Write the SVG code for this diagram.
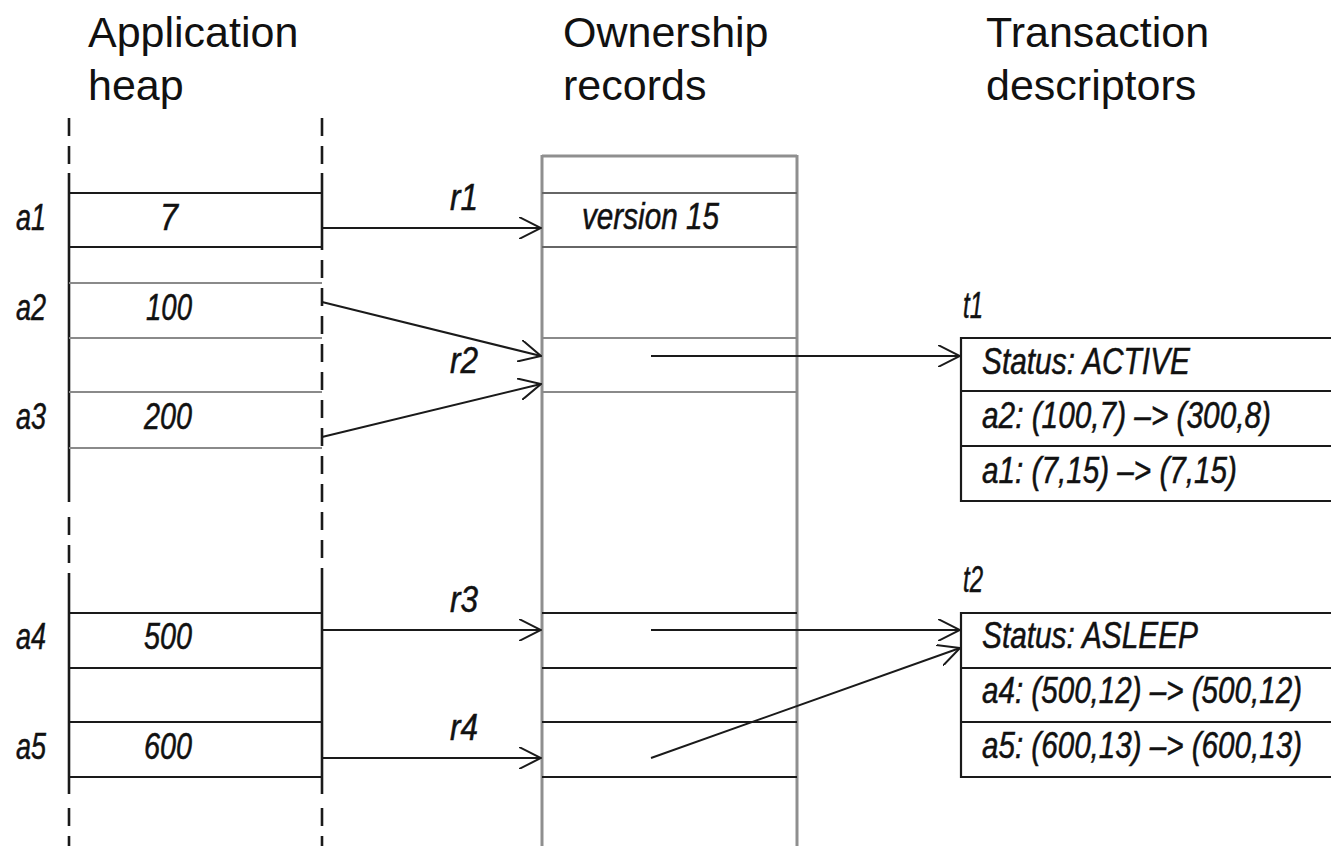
<svg xmlns="http://www.w3.org/2000/svg" width="1331" height="846" viewBox="0 0 1331 846">
<style>
.hd{font-family:"Liberation Sans",Arial,sans-serif;font-size:43px;fill:#111}
.it{font-family:"Liberation Sans Narrow","Liberation Sans",Arial,sans-serif;font-style:italic;font-size:36px;fill:#111;stroke:#111;stroke-width:0.5}
.blk{stroke:#1a1a1a;stroke-width:2.2;fill:none}
.gry{stroke:#8a8a8a;stroke-width:2.2;fill:none}
.vl{stroke:#1a1a1a;stroke-width:2.6;fill:none}
.dash{stroke:#1a1a1a;stroke-width:2.6;fill:none;stroke-dasharray:18 10}
.orv{stroke:#8f8f8f;stroke-width:3;fill:none}
.con{stroke:#1a1a1a;stroke-width:2;fill:none;marker-end:url(#ah)}
</style>
<defs>
<marker id="ah" viewBox="0 0 23 22" refX="22" refY="11" markerWidth="23" markerHeight="22" markerUnits="userSpaceOnUse" orient="auto">
<path d="M0,0 L22,11 L0,22" fill="none" stroke="#1a1a1a" stroke-width="2"/>
</marker>
</defs>
<rect width="1331" height="846" fill="#fff"/>

<g id="headings">
<text class="hd" x="88" y="47">Application</text>
<text class="hd" x="88" y="100">heap</text>
<text class="hd" x="563" y="47">Ownership</text>
<text class="hd" x="563" y="100">records</text>
<text class="hd" x="986" y="47">Transaction</text>
<text class="hd" x="986" y="100">descriptors</text>
</g>

<g id="heap">
<line class="dash" x1="69" y1="118" x2="69" y2="173"/>
<line class="vl" x1="69" y1="173" x2="69" y2="502"/>
<line class="dash" x1="69" y1="517" x2="69" y2="574"/>
<line class="vl" x1="69" y1="574" x2="69" y2="794"/>
<line class="dash" x1="69" y1="808" x2="69" y2="846"/>
<line class="dash" x1="322" y1="118" x2="322" y2="173"/>
<line class="vl" x1="322" y1="173" x2="322" y2="250"/>
<line class="dash" x1="322" y1="260" x2="322" y2="574"/>
<line class="vl" x1="322" y1="574" x2="322" y2="794"/>
<line class="dash" x1="322" y1="808" x2="322" y2="846"/>
</g>

<g id="a1">
<line class="blk" x1="69" y1="193" x2="322" y2="193"/>
<line class="blk" x1="69" y1="247" x2="322" y2="247"/>
<text class="it" x="16" y="230" textLength="30" lengthAdjust="spacingAndGlyphs">a1</text>
<text class="it" x="160" y="230" textLength="18" lengthAdjust="spacingAndGlyphs">7</text>
</g>
<g id="a2">
<line class="gry" x1="69" y1="283" x2="322" y2="283"/>
<line class="gry" x1="69" y1="338" x2="322" y2="338"/>
<text class="it" x="16" y="320" textLength="30" lengthAdjust="spacingAndGlyphs">a2</text>
<text class="it" x="146" y="320" textLength="46" lengthAdjust="spacingAndGlyphs">100</text>
</g>
<g id="a3">
<line class="gry" x1="69" y1="392" x2="322" y2="392"/>
<line class="gry" x1="69" y1="448" x2="322" y2="448"/>
<text class="it" x="16" y="429" textLength="30" lengthAdjust="spacingAndGlyphs">a3</text>
<text class="it" x="144" y="429" textLength="48" lengthAdjust="spacingAndGlyphs">200</text>
</g>
<g id="a4">
<line class="blk" x1="69" y1="613" x2="322" y2="613"/>
<line class="blk" x1="69" y1="668" x2="322" y2="668"/>
<text class="it" x="16" y="649" textLength="30" lengthAdjust="spacingAndGlyphs">a4</text>
<text class="it" x="144" y="649" textLength="48" lengthAdjust="spacingAndGlyphs">500</text>
</g>
<g id="a5">
<line class="blk" x1="69" y1="722" x2="322" y2="722"/>
<line class="blk" x1="69" y1="777" x2="322" y2="777"/>
<text class="it" x="16" y="759" textLength="30" lengthAdjust="spacingAndGlyphs">a5</text>
<text class="it" x="144" y="759" textLength="48" lengthAdjust="spacingAndGlyphs">600</text>
</g>

<g id="ownership-records">
<line class="orv" x1="542" y1="155" x2="542" y2="846"/>
<line class="orv" x1="797" y1="155" x2="797" y2="846"/>
<line class="orv" x1="542" y1="156" x2="797" y2="156"/>
<line class="gry" x1="542" y1="193" x2="797" y2="193" style="stroke:#666"/>
<line class="gry" x1="542" y1="247" x2="797" y2="247" style="stroke:#666"/>
<line class="gry" x1="542" y1="338" x2="797" y2="338"/>
<line class="gry" x1="542" y1="392" x2="797" y2="392"/>
<line class="blk" x1="542" y1="613" x2="797" y2="613"/>
<line class="blk" x1="542" y1="668" x2="797" y2="668"/>
<line class="blk" x1="542" y1="722" x2="797" y2="722"/>
<line class="blk" x1="542" y1="777" x2="797" y2="777"/>
<text class="it" x="582" y="229" textLength="137" lengthAdjust="spacingAndGlyphs">version 15</text>
<text class="it" x="450" y="210" textLength="28" lengthAdjust="spacingAndGlyphs">r1</text>
<text class="it" x="450" y="373" textLength="28" lengthAdjust="spacingAndGlyphs">r2</text>
<text class="it" x="450" y="612" textLength="28" lengthAdjust="spacingAndGlyphs">r3</text>
<text class="it" x="450" y="740" textLength="28" lengthAdjust="spacingAndGlyphs">r4</text>
</g>

<g id="t1">
<text class="it" x="963" y="318" textLength="20" lengthAdjust="spacingAndGlyphs">t1</text>
<path class="blk" d="M1331,338 H961 V501 H1331 M961,391 H1331 M961,446 H1331"/>
<text class="it" x="982" y="374" textLength="208" lengthAdjust="spacingAndGlyphs">Status: ACTIVE</text>
<text class="it" x="982" y="428" textLength="289" lengthAdjust="spacingAndGlyphs">a2: (100,7) –&gt; (300,8)</text>
<text class="it" x="982" y="483" textLength="255" lengthAdjust="spacingAndGlyphs">a1: (7,15) –&gt; (7,15)</text>
</g>

<g id="t2">
<text class="it" x="963" y="592" textLength="20" lengthAdjust="spacingAndGlyphs">t2</text>
<path class="blk" d="M1331,613 H961 V777 H1331 M961,668 H1331 M961,722 H1331"/>
<text class="it" x="982" y="648" textLength="216" lengthAdjust="spacingAndGlyphs">Status: ASLEEP</text>
<text class="it" x="982" y="703" textLength="320" lengthAdjust="spacingAndGlyphs">a4: (500,12) –&gt; (500,12)</text>
<text class="it" x="982" y="758" textLength="320" lengthAdjust="spacingAndGlyphs">a5: (600,13) –&gt; (600,13)</text>
</g>

<g id="connectors">
<line class="con" x1="322" y1="228" x2="541" y2="228"/>
<line class="con" x1="322" y1="302" x2="541" y2="356"/>
<line class="con" x1="322" y1="437" x2="541" y2="384"/>
<line class="con" x1="322" y1="630" x2="541" y2="630"/>
<line class="con" x1="322" y1="758" x2="541" y2="758"/>
<line class="con" x1="651" y1="356" x2="960" y2="356"/>
<line class="con" x1="651" y1="630" x2="960" y2="630"/>
<line class="con" x1="651" y1="758" x2="960" y2="648"/>
</g>
</svg>
